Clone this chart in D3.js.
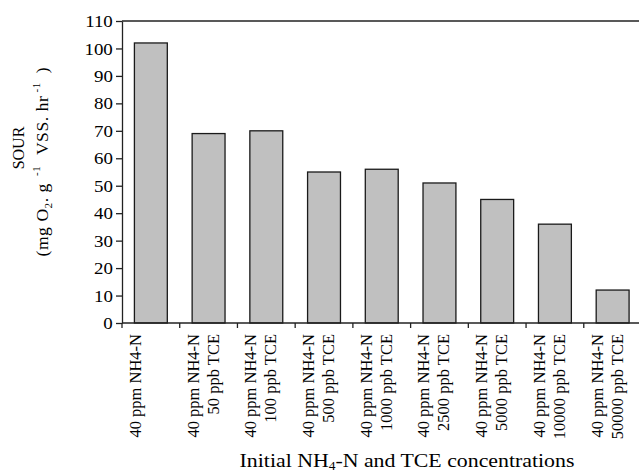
<!DOCTYPE html>
<meta charset="utf-8">
<script src="https://d3js.org/d3.v7.min.js"></script>
<style>
  body { margin: 0; background: #fff; }
  text { font-family: "Liberation Serif", "Times New Roman", serif; fill: #000; }
</style>
<div id="my_dataviz"></div>
<script>
    // categories (each label may have two lines)
    var labelLine1 = ["40 ppm NH4-N", "40 ppm NH4-N", "40 ppm NH4-N", "40 ppm NH4-N", "40 ppm NH4-N",
                      "40 ppm NH4-N", "40 ppm NH4-N", "40 ppm NH4-N", "40 ppm NH4-N"];
    var labelLine2 = ["", "50 ppb TCE", "100 ppb TCE", "500 ppb TCE", "1000 ppb TCE",
                      "2500 ppb TCE", "5000 ppb TCE", "10000 ppb TCE", "50000 ppb TCE"];
    // SOUR values
    var sour = [102, 69, 70, 55, 56, 51, 45, 36, 12];
    var yTicks = [0, 10, 20, 30, 40, 50, 60, 70, 80, 90, 100, 110];

    var margin = {top: 21, left: 122},
        plotW = 519.5,
        plotH = 302;

    var svg = d3.select("#my_dataviz")
      .append("svg")
        .attr("width", 639)
        .attr("height", 473);

    var g = svg.append("g")
        .attr("transform", "translate(" + margin.left + "," + margin.top + ")");

    var cats = d3.range(sour.length);
    var x = d3.scaleBand()
      .domain(cats)
      .range([0, plotW])
      .paddingInner(0.43)
      .paddingOuter(0.215);

    var y = d3.scaleLinear()
      .domain([0, 110])
      .range([plotH, 0]);

    // bars
    g.selectAll("rect.bar")
      .data(sour)
      .enter().append("rect")
        .attr("class", "bar")
        .attr("x", function(d, i) { return x(i); })
        .attr("y", function(d) { return y(d); })
        .attr("width", x.bandwidth())
        .attr("height", function(d) { return y(0) - y(d); })
        .attr("fill", "#c0c0c0")
        .attr("stroke", "#1a1a1a")
        .attr("stroke-width", 1.3);

    // top frame line
    g.append("line")
      .attr("x1", 0).attr("x2", plotW)
      .attr("y1", 0).attr("y2", 0)
      .attr("stroke", "#222").attr("stroke-width", 1.3);

    // y axis
    var yAxis = g.append("g")
      .call(d3.axisLeft(y).tickValues(yTicks).tickSize(6).tickSizeOuter(0));
    yAxis.select(".domain").attr("stroke", "#222").attr("stroke-width", 1.3);
    yAxis.selectAll(".tick line").attr("stroke", "#222").attr("stroke-width", 1.3);
    yAxis.selectAll(".tick text")
      .attr("x", -8.5)
      .attr("transform", "scale(1.08,1)")
      .style("font-family", "Liberation Serif")
      .style("font-size", "17.5px")
      .attr("fill", "#000");

    // x axis: ticks sit between the categories
    var step = x.step();
    var xAxis = g.append("g")
      .attr("transform", "translate(0," + plotH + ")");
    xAxis.append("line")
      .attr("x1", 0).attr("x2", plotW)
      .attr("stroke", "#222").attr("stroke-width", 1.3);
    xAxis.selectAll("line.tk")
      .data(d3.range(sour.length + 1))
      .enter().append("line")
        .attr("class", "tk")
        .attr("x1", function(k) { return k * step; })
        .attr("x2", function(k) { return k * step; })
        .attr("y1", 0).attr("y2", 5)
        .attr("stroke", "#222").attr("stroke-width", 1.3);

    // category labels, rotated
    var lab = xAxis.selectAll("g.lab")
      .data(cats)
      .enter().append("g")
        .attr("class", "lab")
        .attr("transform", function(i) {
          return "translate(" + (x(i) + x.bandwidth() / 2) + ",11) rotate(-90)";
        });
    lab.append("text")
      .attr("text-anchor", "end")
      .attr("x", 0)
      .attr("y", -10)
      .style("font-size", "16.5px")
      .text(function(i) { return labelLine1[i]; });
    lab.append("text")
      .attr("text-anchor", "end")
      .attr("x", 0)
      .attr("y", 10)
      .style("font-size", "16.5px")
      .text(function(i) { return labelLine2[i]; });

    // y title
    var yt = svg.append("g")
      .attr("transform", "rotate(-90)");
    yt.append("text")
      .attr("text-anchor", "middle")
      .attr("x", -148)
      .attr("y", 24)
      .style("font-size", "16px")
      .text("SOUR");
    var yt2 = yt.append("text")
      .attr("text-anchor", "middle")
      .attr("x", -162)
      .attr("y", 48)
      .attr("textLength", 189)
      .attr("lengthAdjust", "spacing")
      .style("font-size", "17.5px");
    yt2.append("tspan").text("(mg O");
    yt2.append("tspan").attr("dy", 4).style("font-size", "11px").text("2");
    yt2.append("tspan").attr("dy", -4).text(". g");
    yt2.append("tspan").attr("dx", 7).attr("dy", -8).style("font-size", "11px").text("-1");
    yt2.append("tspan").attr("dx", 6).attr("dy", 8).text(" VSS. hr");
    yt2.append("tspan").attr("dx", 3).attr("dy", -8).style("font-size", "11px").text("-1");
    yt2.append("tspan").attr("dx", 4).attr("dy", 8).text(" )");

    // x title
    var xt = svg.append("text")
      .attr("text-anchor", "middle")
      .attr("transform", "translate(407,467) scale(1.12,1)")
      .style("font-size", "19.5px");
    xt.append("tspan").text("Initial NH");
    xt.append("tspan").attr("dy", 3).style("font-size", "12px").text("4");
    xt.append("tspan").attr("dy", -3).text("-N and TCE concentrations");
</script>
